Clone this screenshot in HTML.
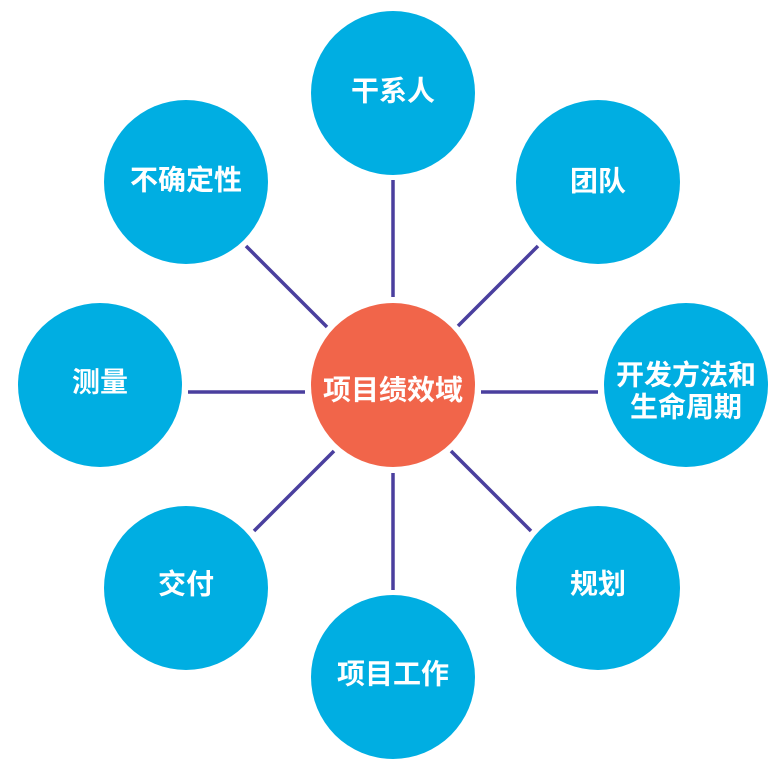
<!DOCTYPE html>
<html><head><meta charset="utf-8"><style>
html,body{margin:0;padding:0;background:#fff;}
svg{display:block}
text{font-family:"Liberation Sans","Noto Sans CJK SC",sans-serif;font-weight:bold;fill:#fff;text-anchor:middle;dominant-baseline:central;}
</style></head><body>
<svg width="784" height="776" viewBox="0 0 784 776">
<g stroke="#4a3f9e" stroke-width="3.5">
<line x1="393" y1="180" x2="393" y2="297"/>
<line x1="393" y1="473" x2="393" y2="590"/>
<line x1="188" y1="392" x2="305" y2="392"/>
<line x1="481" y1="392" x2="598" y2="392"/>
<line x1="246" y1="246" x2="327" y2="327"/>
<line x1="538" y1="246" x2="458" y2="326"/>
<line x1="451" y1="451" x2="531" y2="531"/>
<line x1="334" y1="451" x2="254" y2="531"/>
</g>
<g fill="#00aee2">
<circle cx="393" cy="93" r="82"/>
<circle cx="598" cy="182" r="82"/>
<circle cx="686" cy="385" r="82"/>
<circle cx="598" cy="588" r="82"/>
<circle cx="393" cy="677" r="82"/>
<circle cx="186" cy="588" r="82"/>
<circle cx="100" cy="385" r="82"/>
<circle cx="186" cy="182" r="82"/>
</g>
<circle cx="393" cy="385" r="82" fill="#f1654a"/>
<g font-size="28">
<text x="393" y="390">项目绩效域</text>
<text x="393" y="91">干系人</text>
<text x="598" y="181">团队</text>
<text x="686" y="375">开发方法和</text>
<text x="686" y="407">生命周期</text>
<text x="598" y="584">规划</text>
<text x="393" y="674">项目工作</text>
<text x="186" y="584">交付</text>
<text x="100" y="382">测量</text>
<text x="186" y="180">不确定性</text>
</g>
</svg>
</body></html>
